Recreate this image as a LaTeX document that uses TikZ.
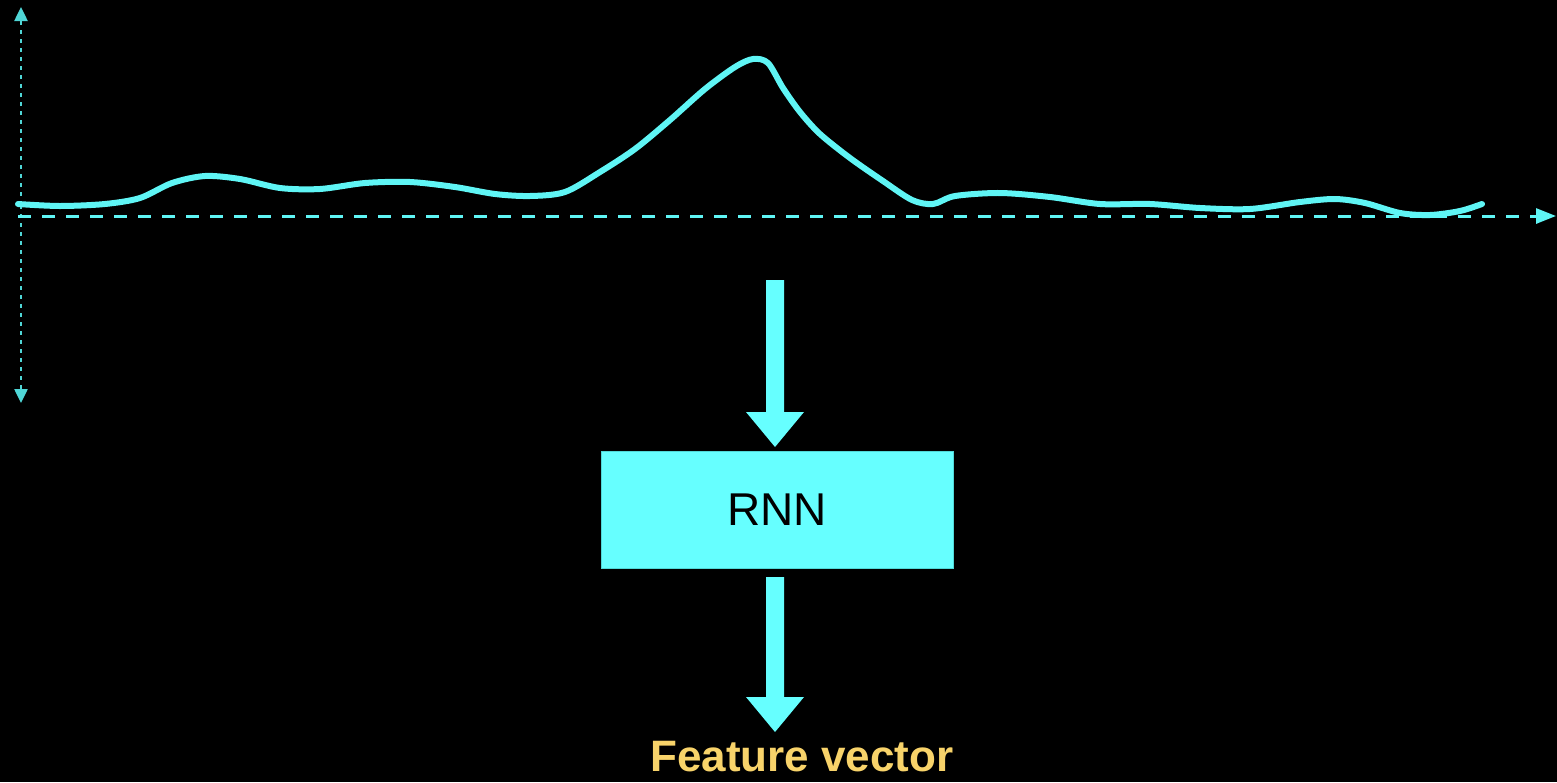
\documentclass[tikz,border=0pt]{standalone}
\usepackage{fontspec}
\setmainfont{Liberation Sans}
\usetikzlibrary{arrows.meta,calc}
\definecolor{sig}{HTML}{5FF5F5}
\definecolor{boxfill}{HTML}{66FFFF}
\definecolor{boxline}{HTML}{50D8D8}
\definecolor{axisc}{HTML}{4FD6D6}
\definecolor{featc}{HTML}{F8D36A}
\tikzset{
  signal/.style={draw=sig, line width=6pt, line cap=round, line join=round},
  yaxis/.style={draw=axisc, line width=2.5pt, dash pattern=on 4pt off 5pt},
  ytip/.style={-{Triangle[width=13pt,length=14pt]}},
  xaxis/.style={draw=sig, line width=3pt, dash pattern=on 13pt off 11pt,
    -{Triangle[width=15pt,length=20pt]}},
  blockfill/.style={fill=boxfill},
  procbox/.style={draw=boxline, line width=1pt, fill=boxfill, minimum width=352pt,
    minimum height=117pt, inner sep=0pt, font=\fontsize{46}{55}\selectfont},
  label/.style={text=featc, inner sep=0pt, font=\bfseries\fontsize{44}{53}\selectfont}
}
% vertical block arrow: tail at #1, tip at #2
\newcommand\blockarrow[2]{%
  \fill[blockfill] ($(#1)+(-9,0)$) -- ($(#2)+(-9,-35)$) -- ($(#2)+(-29,-35)$) --
    (#2) -- ($(#2)+(29,-35)$) -- ($(#2)+(9,-35)$) -- ($(#1)+(9,0)$) -- cycle;}
\begin{document}
\begin{tikzpicture}[x=1pt,y=-1pt]
  \fill[black] (0,0) rectangle (1557,782);
  \useasboundingbox (0,0) rectangle (1557,782);

  % axes
  \coordinate (ytop) at (21,7);
  \coordinate (ymid) at (21,205);
  \coordinate (ybot) at (21,403);
  \coordinate (xl) at (18,216);
  \coordinate (xr) at (1556,216);
  \draw[yaxis,ytip] (ymid) -- (ytop);
  \draw[yaxis,ytip] (ymid) -- (ybot);
  \draw[xaxis] (xl) -- (xr);

  % signal trace
  \draw[signal] plot[smooth, tension=0.5] coordinates {
    (18,204) (60,206) (105,204) (140,198) (172,183) (205,176) (240,179)
    (280,188) (320,189) (365,183) (410,182) (455,187) (495,194)
    (530,196) (565,192) (600,172) (635,149) (670,120) (705,89) (735,67)
    (753,59) (768,63) (783,88) (800,112) (820,134) (850,158) (883,181)
    (912,200) (933,204) (955,196) (1000,193) (1050,197) (1100,204)
    (1150,204) (1200,208) (1250,209) (1300,202) (1335,199) (1365,203)
    (1400,213) (1430,215) (1460,211) (1482,204)};

  % network block
  \node[procbox] (rnn) at (777,509.5) {RNN};
  \node[label, anchor=base] (feat) at (802,771) {Feature vector};

  \coordinate (in1) at (775,280);
  \coordinate (tip1) at (775,447);
  \coordinate (out0) at (775,577);
  \coordinate (tip2) at (775,732);
  \blockarrow{in1}{tip1}
  \blockarrow{out0}{tip2}
\end{tikzpicture}
\end{document}
